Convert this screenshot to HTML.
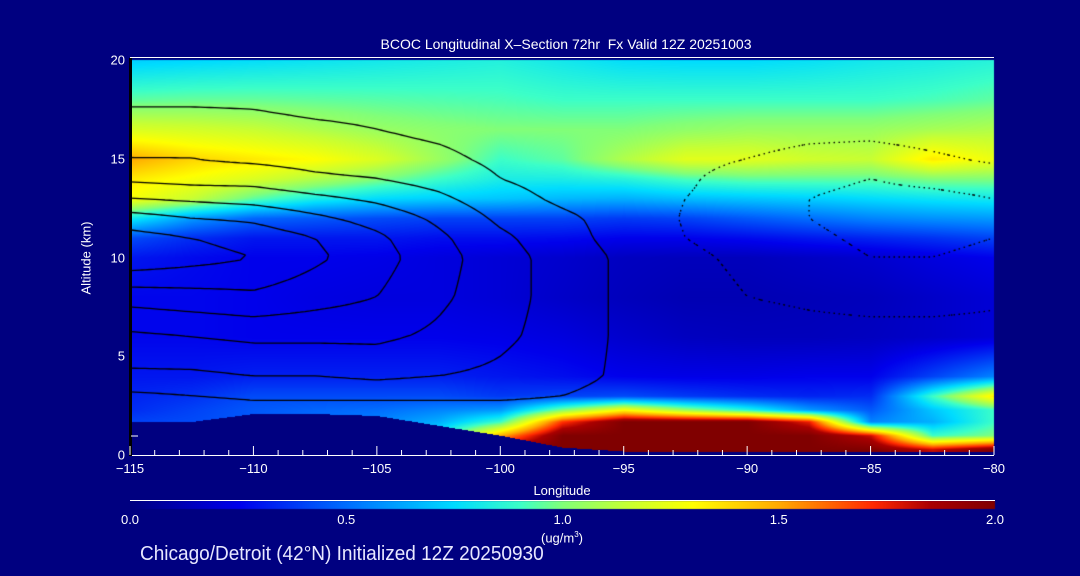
<!DOCTYPE html>
<html><head><meta charset="utf-8"><style>
body{margin:0;background:#000080;}
#wrap{position:relative;width:1080px;height:576px;background:#000080;overflow:hidden;font-family:"Liberation Sans",sans-serif;color:#fff;}
.t{position:absolute;white-space:nowrap;font-size:13px;line-height:13px;}
canvas{position:absolute;left:0;top:0;}
</style></head><body>
<div id="wrap">
<canvas id="cv" width="1080" height="576"></canvas>
<svg id="ax" width="1080" height="576" style="position:absolute;left:0;top:0"></svg>
<div class="t" style="left:566px;top:38px;transform:translateX(-50%);font-size:14px">BCOC Longitudinal X–Section 72hr &nbsp;Fx Valid 12Z 20251003</div>
<div class="t" style="left:562px;top:484px;transform:translateX(-50%)">Longitude</div>
<div class="t" style="left:86px;top:258px;transform:translate(-50%,-50%) rotate(-90deg)">Altitude (km)</div>
<div class="t" style="left:562px;top:528px;transform:translateX(-50%)">(ug/m<sup style="font-size:8px">3</sup>)</div>
<div class="t" style="left:140px;top:544px;font-size:20px;line-height:20px;color:#e8e8ff;transform:scaleX(0.95);transform-origin:left">Chicago/Detroit (42°N) Initialized 12Z 20250930</div>
<div id="labels"></div>
</div>
<script>
const lons=[-115,-112.5,-110,-107.5,-105,-102.5,-100,-97.5,-95,-92.5,-90,-87.5,-85,-82.5,-80];
const alts=[20,18,16.5,15,14,13,12,11,10,8,6,4,3,2.3,1.7,1,0.3,0];
const field=[
[0.72,0.74,0.76,0.78,0.8,0.82,0.84,0.8,0.76,0.75,0.75,0.77,0.8,0.82,0.85],
[0.95,0.96,0.96,0.95,0.94,0.93,0.92,0.9,0.9,0.9,0.9,0.9,0.9,0.92,0.95],
[1.2,1.18,1.15,1.1,1.05,1.02,1.0,1.0,1.0,1.03,1.05,1.05,1.05,1.08,1.1],
[1.5,1.4,1.35,1.3,1.2,1.05,0.9,0.95,1.1,1.22,1.22,1.17,1.15,1.35,1.25],
[1.35,1.28,1.2,1.1,1.0,0.9,0.82,0.82,0.85,0.92,0.95,0.95,0.95,1.0,1.0],
[1.28,1.15,0.95,0.82,0.75,0.72,0.7,0.67,0.65,0.68,0.7,0.72,0.75,0.78,0.8],
[0.8,0.6,0.48,0.45,0.42,0.4,0.4,0.4,0.38,0.4,0.45,0.5,0.55,0.58,0.6],
[0.42,0.35,0.3,0.3,0.3,0.28,0.28,0.27,0.25,0.25,0.27,0.3,0.33,0.36,0.4],
[0.3,0.27,0.25,0.25,0.24,0.22,0.2,0.18,0.15,0.14,0.14,0.16,0.18,0.22,0.25],
[0.26,0.26,0.25,0.23,0.22,0.22,0.2,0.17,0.14,0.12,0.12,0.13,0.14,0.17,0.2],
[0.26,0.26,0.25,0.25,0.25,0.25,0.24,0.22,0.18,0.15,0.14,0.14,0.15,0.17,0.2],
[0.3,0.3,0.32,0.32,0.32,0.32,0.3,0.28,0.25,0.24,0.24,0.25,0.25,0.4,0.55],
[0.33,0.36,0.42,0.42,0.42,0.42,0.38,0.4,0.42,0.38,0.35,0.33,0.35,0.9,1.35],
[0.35,0.4,0.45,0.48,0.5,0.55,0.6,1.0,1.3,1.05,0.85,0.6,0.45,0.7,0.9],
[0.4,0.42,0.45,0.5,0.55,0.65,0.9,1.7,2.0,2.0,2.0,1.75,0.55,0.65,0.9],
[0.4,0.42,0.45,0.5,0.55,0.8,1.5,2.0,2.0,2.0,2.0,2.0,1.8,0.9,1.0],
[0.4,0.42,0.45,0.5,0.6,1.0,2.0,2.0,2.0,2.0,2.0,2.0,2.0,1.8,2.0],
[0.4,0.42,0.45,0.5,0.6,1.0,2.0,2.0,2.0,2.0,2.0,2.0,2.0,1.8,2.0]];
const terrain=[1.7,1.7,2.1,2.1,2.0,1.5,1.0,0.4,0.2,0.2,0.2,0.2,0.2,0.2,0.2];
// contour field, one array per longitude column (top to bottom altitude)
const windCols=[
[-1,4,8,10,14,20,27,32,34,22,14,9,4,2,1,-1,-1,-1],
[-1,4,8,10,13,19,25,30,32,23,15,9,5,2,1,-1,-1,-1],
[-1,4,7,9,13,18,24,28,30,24,16,10,6,3,2,-1,-1,-1],
[-1,3,6,8,11,16,21,25,26,22,16,10,6,3,2,-1,-1,-1],
[-1,3,5,7,10,14,18,21,22,20,16,11,6,3,2,-1,-1,-1],
[-1,2,4,6,8,11,14,16,17,16,14,10,6,3,2,-1,-1,-1],
[-1,1,3,4,5,7,9,11,12,12,11,9,6,3,2,-1,-1,-1],
[-1,1,2,2,3,4,6,7,8,8,8,7,5,3,1,-1,-1,-1],
[-1,-1,-1,1,1,2,3,3,4,4,4,4,3,2,-1,-1,-1,-1],
[-1,-1,-1,-3,-4,-5,-6,-5,-4,-3,-1,-1,-1,-1,-1,-1,-1,-1],
[-1,-1,-2,-5,-8,-8,-8,-7,-6,-5,-2,-1,-1,-1,-1,-1,-1,-1],
[-1,-1,-3,-7,-9,-10,-10,-9,-8,-6,-3,-1,-1,-1,-1,-1,-1,-1],
[-1,-1,-3,-8,-10,-11,-12,-11,-10,-7,-3,-1,-1,-1,-1,-1,-1,-1],
[-1,-1,-2,-6,-9,-11,-12,-11,-10,-7,-3,-1,-1,-1,-1,-1,-1,-1],
[-1,-1,-1,-4,-8,-10,-11,-10,-9,-6,-3,-1,-1,-1,-1,-1,-1,-1]];
const contourLevels=[-10,-5,5,10,15,20,25,30];
const xTicks=[-115,-110,-105,-100,-95,-90,-85,-80];
const yTicks=[0,5,10,15,20];
const cbTicks=[0.0,0.5,1.0,1.5,2.0];
const X0=130,X1=994,Y0=455,Y1=60;
const xs=l=>X0+(l+115)/35*(X1-X0);
const ys=z=>Y0-z/20*(Y0-Y1);
const cx=v=>130+v/2*865;
const stops=[[0,0,0,128],[0.25,0,0,235],[0.5,0,110,255],[0.75,0,220,255],[0.9,60,255,200],[1.0,130,255,120],[1.15,200,255,50],[1.3,255,255,0],[1.5,255,170,0],[1.72,255,40,0],[1.85,170,0,0],[2.0,128,0,0]];
function cmap(v){v=Math.max(0,Math.min(2,v));for(let i=1;i<stops.length;i++){if(v<=stops[i][0]){const a=stops[i-1],b=stops[i],t=(v-a[0])/(b[0]-a[0]);return [a[1]+t*(b[1]-a[1]),a[2]+t*(b[2]-a[2]),a[3]+t*(b[3]-a[3])];}}return [128,0,0];}
function idx(arr,v,desc){for(let i=0;i<arr.length-1;i++){const a=arr[i],b=arr[i+1];if(desc?(v<=a&&v>=b):(v>=a&&v<=b))return [i,(v-a)/(b-a)];}return [arr.length-2,1];}
function sample(get,lon,z){const [ri,rt]=idx(alts,z,true);const [ci,ct]=idx(lons,lon,false);
 return (get(ri,ci)*(1-ct)+get(ri,ci+1)*ct)*(1-rt)+(get(ri+1,ci)*(1-ct)+get(ri+1,ci+1)*ct)*rt;}
function terr(lon){const [ci,ct]=idx(lons,lon,false);return terrain[ci]*(1-ct)+terrain[ci+1]*ct;}
const cv=document.getElementById('cv'),ctx=cv.getContext('2d');
const W=X1-X0,H=Y0-Y1;
const img=ctx.createImageData(W,H);
const fget=(r,c)=>field[r][c];
for(let py=0;py<H;py++){const z=(Y0-(Y1+py))*20/H;
 for(let px=0;px<W;px++){const lon=-115+px/W*35;
  const v=sample(fget,lon,z);
  const c=z<terr(lon)?[0,0,128]:cmap(v);const k=(py*W+px)*4;img.data[k]=c[0];img.data[k+1]=c[1];img.data[k+2]=c[2];img.data[k+3]=255;}}
ctx.putImageData(img,X0,Y1);
// contours (marching squares)
const wget=(r,c)=>windCols[c][r];
const S=5,nx=Math.floor(W/S),ny=Math.floor(H/S);
const g=[];for(let j=0;j<=ny;j++){g[j]=[];for(let i=0;i<=nx;i++){const lon=-115+i*S/W*35,z=20-j*S/H*20;g[j][i]=sample(wget,lon,Math.max(0,z));}}
contourLevels.forEach(L=>{
 ctx.strokeStyle='#000';ctx.lineWidth=1.3;ctx.setLineDash(L<0?[1.5,4]:[]);ctx.beginPath();
 for(let j=0;j<ny;j++)for(let i=0;i<nx;i++){
  const x=X0+i*S,y=Y1+j*S;const z=20-(j+1)*S/H*20;if(z<terr(-115+i*S/W*35))continue;
  const a=g[j][i],b=g[j][i+1],c=g[j+1][i+1],d=g[j+1][i];
  const pts=[];
  const e=(v1,v2,p1,p2)=>{if((v1<L)!==(v2<L)){const t=(L-v1)/(v2-v1);pts.push([p1[0]+t*(p2[0]-p1[0]),p1[1]+t*(p2[1]-p1[1])]);}};
  e(a,b,[x,y],[x+S,y]);e(b,c,[x+S,y],[x+S,y+S]);e(c,d,[x+S,y+S],[x,y+S]);e(d,a,[x,y+S],[x,y]);
  for(let k=0;k+1<pts.length;k+=2){ctx.moveTo(pts[k][0],pts[k][1]);ctx.lineTo(pts[k+1][0],pts[k+1][1]);}
 }
 ctx.stroke();
});
ctx.setLineDash([]);
// colorbar
for(let x=130;x<995;x++){const c=cmap((x-130)/865*2);ctx.fillStyle=`rgb(${c[0]|0},${c[1]|0},${c[2]|0})`;ctx.fillRect(x,501,1,8);}
const NS='http://www.w3.org/2000/svg',ax=document.getElementById('ax');
function ln(x1,y1,x2,y2,col,w,name){const l=document.createElementNS(NS,'line');l.setAttribute('x1',x1);l.setAttribute('y1',y1);l.setAttribute('x2',x2);l.setAttribute('y2',y2);l.setAttribute('stroke',col);l.setAttribute('stroke-width',w);


ax.appendChild(l);}
ln(X0,57.5,X1,57.5,'#fff',1,'plot-top-border');
ln(X0,455.5,X1,455.5,'#fff',1,'x-axis-line');
ln(130.5,58,130.5,456,'#000',3,'y-axis-line');
ln(130,500.5,995,500.5,'#fff',1,'colorbar-top-line');
for(let l=-115;l<=-80;l++){const maj=(l%5===0);ln(xs(l),455,xs(l),maj?446:450,'#fff',1,'x-tick');}
ln(131,436,138,436,'#fff',1,'y-minor-tick');
const lab=document.getElementById('labels');
function txt(s,x,y,tr,name){const d=document.createElement('div');d.className='t';d.textContent=s;d.style.left=x+'px';d.style.top=y+'px';d.style.transform=tr;


lab.appendChild(d);}
xTicks.forEach(l=>txt(String(l).replace('-','−'),xs(l),462,'translateX(-50%)','x-tick-label'));
yTicks.forEach(z=>txt(String(z),125,ys(z),'translate(-100%,-50%)','y-tick-label'));
cbTicks.forEach(v=>txt(v.toFixed(1),cx(v),513,'translateX(-50%)','colorbar-tick-label'));
</script>
</body></html>
